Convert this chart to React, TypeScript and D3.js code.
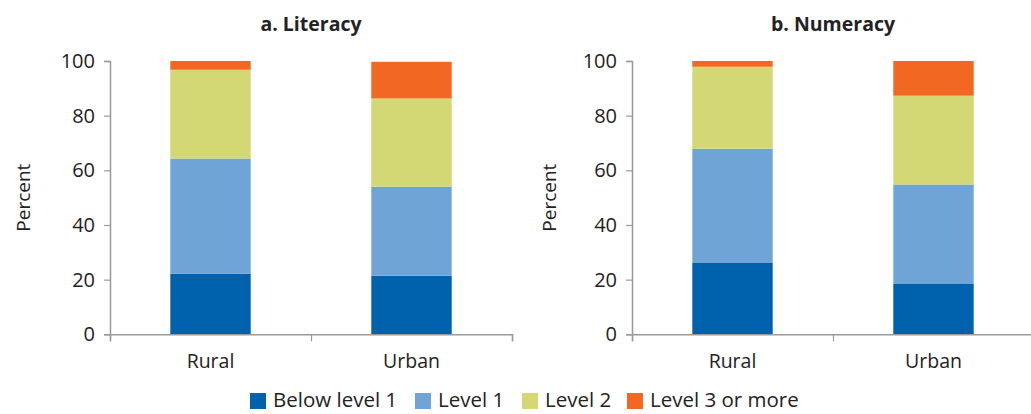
import React, { useRef, useEffect } from 'react';
import * as d3 from 'd3';

const categories = ['Rural', 'Urban'];
const levels = ['Below level 1', 'Level 1', 'Level 2', 'Level 3 or more'];
const colors = ['#0062ac', '#6fa5d6', '#d3d774', '#f26722'];

// values per category, in order of levels
const literacyRural = [22.2, 42.1, 32.5, 3.2];
const literacyUrban = [21.4, 32.6, 32.3, 13.4];
const numeracyRural = [26.1, 41.8, 30.0, 2.1];
const numeracyUrban = [18.4, 36.4, 32.5, 12.7];

const yTicks = [0, 20, 40, 60, 80, 100];

const panels = [
  { title: 'a. Literacy', left: 110, labelX: -80, data: [literacyRural, literacyUrban] },
  { title: 'b. Numeracy', left: 632, labelX: -76, data: [numeracyRural, numeracyUrban] },
];

const FONT = '"Open Sans", "Noto Sans", sans-serif';

const App = () => {
  const svgRef = useRef(null);
  useEffect(() => {
    d3.select(svgRef.current).selectAll('*').remove();
    const svg = d3.select(svgRef.current);
    const plotW = 402;
    const top = 61;
    const bottom = 334.3;

    const y = d3.scaleLinear().domain([0, 100]).range([bottom, top]);

    panels.forEach((p) => {
      const g = svg.append('g').attr('transform', `translate(${p.left},0)`);
      const x = d3
        .scaleBand()
        .domain(categories)
        .range([0, plotW])
        .paddingInner(0.6)
        .paddingOuter(0.3);

      const rows = categories.map((c, i) => {
        const r = { cat: c };
        levels.forEach((l, j) => (r[l] = p.data[i][j]));
        return r;
      });
      const stacked = d3.stack().keys(levels)(rows);

      g.selectAll('g.series')
        .data(stacked)
        .join('g')
        .attr('fill', (d, i) => colors[i])
        .selectAll('rect')
        .data((d) => d)
        .join('rect')
        .attr('x', (d) => x(d.data.cat))
        .attr('width', x.bandwidth())
        .attr('y', (d) => y(d[1]))
        .attr('height', (d) => y(d[0]) - y(d[1]));

      // y axis
      const yAxis = d3.axisLeft(y).tickValues(yTicks).tickSize(6).tickPadding(9);
      const ya = g.append('g').call(yAxis);
      ya.select('.domain').attr('stroke', '#999').attr('stroke-width', 1.5);
      ya.selectAll('.tick line').attr('stroke', '#999').attr('stroke-width', 1.2);
      ya.selectAll('.tick text')
        .attr('fill', '#222')
        .style('font-family', FONT)
        .style('font-size', '20px');

      // x axis with ticks at band boundaries
      const xb = d3.scaleLinear().domain([0, categories.length]).range([0, plotW]);
      const xAxis = d3
        .axisBottom(xb)
        .tickValues(d3.range(0, categories.length + 1))
        .tickSize(7)
        .tickFormat(() => '')
        .tickSizeOuter(7);
      const xa = g.append('g').attr('transform', `translate(0,${bottom})`).call(xAxis);
      xa.select('.domain').attr('stroke', '#999').attr('stroke-width', 1.5);
      xa.selectAll('.tick line').attr('stroke', '#999').attr('stroke-width', 1.2);

      g.selectAll('text.cat')
        .data(categories)
        .join('text')
        .attr('class', 'cat')
        .attr('x', (d) => x(d) + x.bandwidth() / 2)
        .attr('y', 368)
        .attr('text-anchor', 'middle')
        .attr('fill', '#222')
        .style('font-family', FONT)
        .style('font-size', '19.5px')
        .text((d) => d);

      g.append('text')
        .attr('x', plotW / 2)
        .attr('y', 31)
        .attr('text-anchor', 'middle')
        .attr('fill', '#222')
        .style('font-family', FONT)
        .style('font-size', '19.5px')
        .style('font-weight', 'bold')
        .text(p.title);

      g.append('text')
        .attr('transform', `translate(${p.labelX},${(top + bottom) / 2}) rotate(-90)`)
        .attr('text-anchor', 'middle')
        .attr('fill', '#222')
        .style('font-family', FONT)
        .style('font-size', '19px')
        .text('Percent');
    });

    // legend
    const legendX = [250, 415, 522, 627];
    const lg = svg
      .selectAll('g.legend')
      .data(levels)
      .join('g')
      .attr('class', 'legend')
      .attr('transform', (d, i) => `translate(${legendX[i]},393)`);
    lg.append('rect')
      .attr('width', 16)
      .attr('height', 16)
      .attr('fill', (d, i) => colors[i]);
    lg.append('text')
      .attr('x', 23)
      .attr('y', 14)
      .attr('fill', '#222')
      .style('font-family', FONT)
      .style('font-size', '20.5px')
      .text((d) => d);
  }, []);

  return (
    <svg
      ref={svgRef}
      width={1031}
      height={414}
      style={{ position: 'absolute', left: 0, top: 0, background: '#fff' }}
    ></svg>
  );
};

export default App;
